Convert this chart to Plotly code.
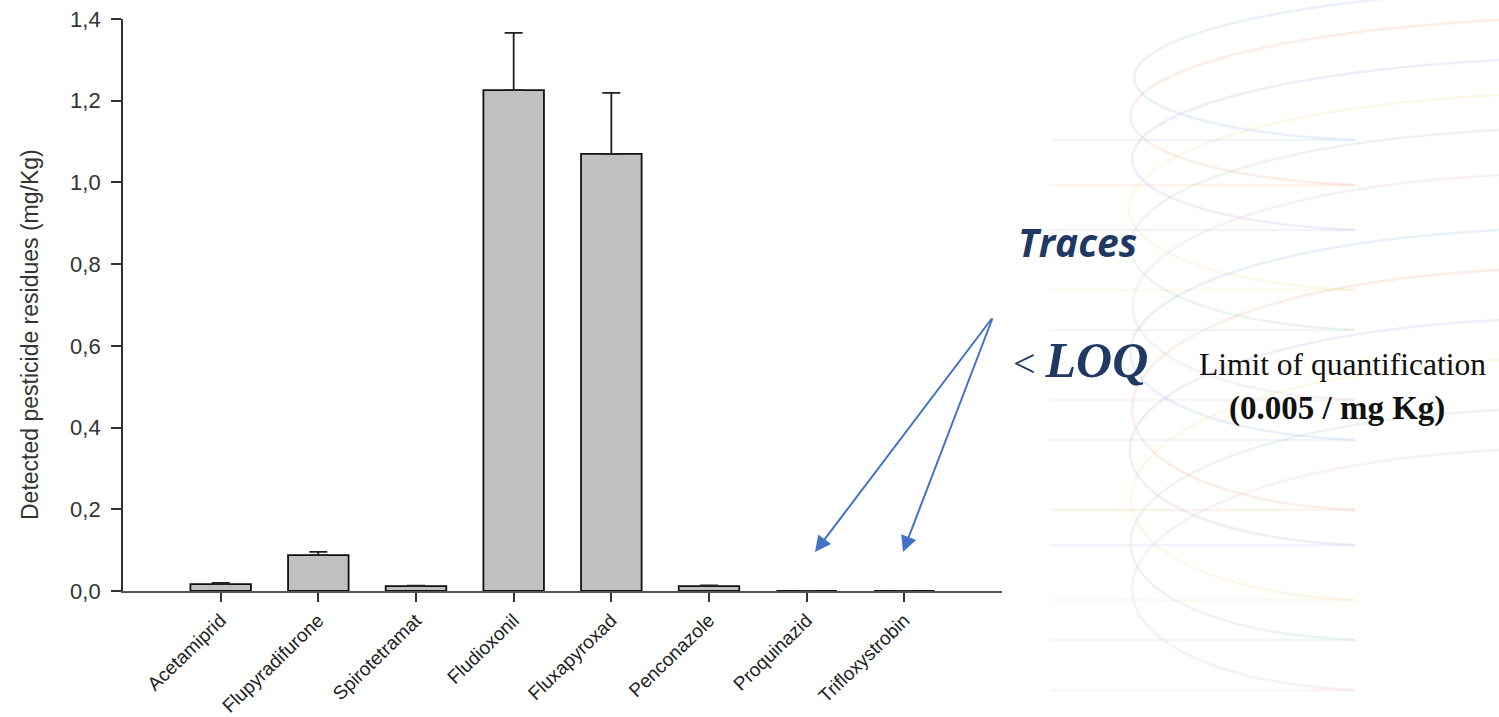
import plotly.graph_objects as go

# Pesticide residues (mg/Kg), mean and upper error
pesticides = ["Acetamiprid", "Flupyradifurone", "Spirotetramat", "Fludioxonil",
              "Fluxapyroxad", "Penconazole", "Proquinazid", "Trifloxystrobin"]
residues = [0.017, 0.088, 0.012, 1.226, 1.070, 0.012, 0.0, 0.0]
residue_err = [0.003, 0.008, 0.001, 0.140, 0.149, 0.002, 0.0, 0.0]
y_ticks = [0.0, 0.2, 0.4, 0.6, 0.8, 1.0, 1.2, 1.4]

W, H = 1499, 717
L, R, T, B = 123, 497, 19, 126


def pxx(x):
    """page pixel x -> paper fraction"""
    return (x - L) / (W - L - R)


def pxy(y):
    """page pixel y -> paper fraction"""
    return 1 - (y - T) / (H - T - B)


fig = go.Figure()

fig.add_trace(go.Bar(
    x=list(range(len(pesticides))),
    y=residues,
    width=0.62,
    marker=dict(color="#c0c0c0", line=dict(color="#111111", width=1.8)),
    error_y=dict(type="data", array=residue_err, arrayminus=[0] * len(residues),
                 symmetric=False, color="#222222", thickness=1.8, width=9),
    showlegend=False,
    hoverinfo="x+y",
))

# faint decorative loops of the slide background
loop_colors = ["rgba(180,200,235,0.28)", "rgba(240,190,170,0.28)", "rgba(200,190,230,0.28)",
               "rgba(245,225,170,0.28)", "rgba(190,215,200,0.28)", "rgba(230,200,220,0.28)"]
loop_specs = [
    (-10, 140, 1085), (20, 185, 1080), (60, 230, 1082), (95, 290, 1078),
    (130, 330, 1080), (175, 400, 1083), (230, 440, 1080), (270, 510, 1082),
    (320, 545, 1079), (360, 600, 1081), (410, 640, 1080), (450, 690, 1082),
]
shapes = []
for i, (y_top, y_bot, x_left) in enumerate(loop_specs):
    col = loop_colors[i % len(loop_colors)]
    path = (f"M {pxx(1499)},{pxy(y_top)} "
            f"C {pxx(x_left - 45)},{pxy(y_top + 25)} {pxx(x_left - 45)},{pxy(y_bot - 15)} "
            f"{pxx(1355)},{pxy(y_bot)}")
    shapes.append(dict(type="path", xref="paper", yref="paper", path=path,
                       line=dict(color=col, width=2.5), layer="below"))
    # horizontal strokes continuing to the left of each loop
    shapes.append(dict(type="line", xref="paper", yref="paper",
                       x0=pxx(1050), x1=pxx(1355), y0=pxy(y_bot), y1=pxy(y_bot),
                       line=dict(color=col.replace("0.28", "0.2"), width=2.5), layer="below"))

# arrows pointing at the two trace-level compounds
arrow_tail = (993, 317)
arrow_heads = [(815, 552), (903, 552)]
annotations = []
for hx, hy in arrow_heads:
    annotations.append(dict(
        x=pxx(hx), y=pxy(hy), xref="paper", yref="paper",
        ax=arrow_tail[0] - hx, ay=arrow_tail[1] - hy, axref="pixel", ayref="pixel",
        text="", showarrow=True, arrowhead=2, arrowsize=1.6, arrowwidth=2,
        arrowcolor="#4472c4",
    ))

annotations += [
    dict(x=pxx(30), y=pxy(335), xref="paper", yref="paper", showarrow=False,
         xanchor="center", yanchor="middle", textangle=-90,
         text="Detected pesticide residues (mg/Kg)",
         font=dict(family="Liberation Sans, Arial, sans-serif", size=23, color="#333333")),
    dict(x=pxx(1077), y=pxy(242), xref="paper", yref="paper", showarrow=False,
         xanchor="center", yanchor="middle",
         text="<b><i>Traces</i></b>",
         font=dict(family="Open Sans, sans-serif", size=39, color="#1f3864")),
    dict(x=pxx(1011), y=pxy(360), xref="paper", yref="paper", showarrow=False,
         xanchor="left", yanchor="middle",
         text="<span style='font-size:40px'>< </span><b><i>LOQ</i></b>",
         font=dict(family="Liberation Serif, serif", size=50, color="#1f3864")),
    dict(x=pxx(1342), y=pxy(364), xref="paper", yref="paper", showarrow=False,
         xanchor="center", yanchor="middle",
         text="Limit of quantification",
         font=dict(family="Liberation Serif, serif", size=31.5, color="#111111")),
    dict(x=pxx(1337), y=pxy(408), xref="paper", yref="paper", showarrow=False,
         xanchor="center", yanchor="middle",
         text="<b>(0.005 / mg Kg)</b>",
         font=dict(family="Liberation Serif, serif", size=33, color="#111111")),
]

fig.update_layout(
    width=W, height=H,
    margin=dict(l=L, r=R, t=T, b=B, pad=0),
    paper_bgcolor="white", plot_bgcolor="rgba(0,0,0,0)",
    separators=",.",
    shapes=shapes,
    annotations=annotations,
    font=dict(family="Liberation Sans, Arial, sans-serif", color="#333333"),
)

fig.update_xaxes(
    range=[-1, 8], automargin=False,
    tickmode="array", tickvals=list(range(len(pesticides))), ticktext=pesticides,
    tickangle=-44, tickfont=dict(size=19, color="#222222"),
    ticks="outside", ticklen=9, tickwidth=1.5, tickcolor="#333333",
    showline=True, linecolor="#555555", linewidth=1.8,
    showgrid=False, zeroline=False,
)
fig.update_yaxes(
    range=[0, 1.4], automargin=False,
    tickmode="array", tickvals=y_ticks, tickformat=".1f",
    tickfont=dict(size=22, color="#333333"), ticklabelstandoff=6,
    ticks="outside", ticklen=10, tickwidth=1.5, tickcolor="#333333",
    showline=True, linecolor="#333333", linewidth=1.8,
    showgrid=False, zeroline=False,
)

fig.write_html("out.html")
